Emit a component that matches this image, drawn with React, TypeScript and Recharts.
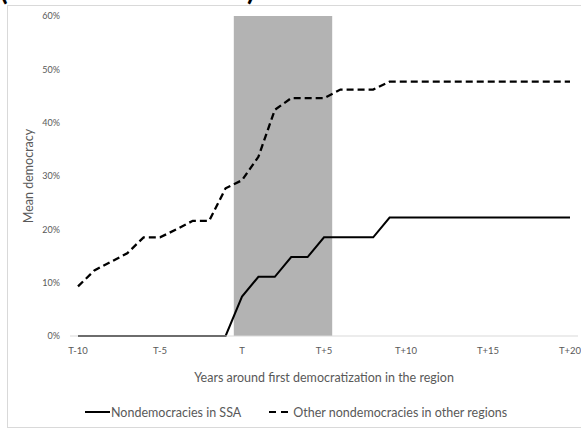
import React from 'react';
import { LineChart, Line, XAxis, YAxis, ReferenceArea, Legend, Label } from 'recharts';

const years = [-10, -9, -8, -7, -6, -5, -4, -3, -2, -1, 0, 1, 2, 3, 4, 5, 6, 7, 8, 9, 10, 11, 12, 13, 14, 15, 16, 17, 18, 19, 20];
const ssaValues = [0, 0, 0, 0, 0, 0, 0, 0, 0, 0, 0.074, 0.111, 0.111, 0.148, 0.148, 0.185, 0.185, 0.185, 0.185, 0.222, 0.222, 0.222, 0.222, 0.222, 0.222, 0.222, 0.222, 0.222, 0.222, 0.222, 0.222];
const otherValues = [0.093, 0.123, 0.139, 0.155, 0.185, 0.185, 0.2, 0.216, 0.216, 0.277, 0.292, 0.336, 0.424, 0.446, 0.446, 0.446, 0.462, 0.462, 0.462, 0.477, 0.477, 0.477, 0.477, 0.477, 0.477, 0.477, 0.477, 0.477, 0.477, 0.477, 0.477];
const tickYears = [-10, -5, 0, 5, 10, 15, 20];
const tickLabels = ['T-10', 'T-5', 'T', 'T+5', 'T+10', 'T+15', 'T+20'];
const yTicks = [0, 0.1, 0.2, 0.3, 0.4, 0.5, 0.6];
const seriesNames = ['Nondemocracies in SSA', 'Other nondemocracies in other regions'];
const shadeRange = [-0.5, 5.5];
const xTitle = 'Years around first democratization in the region';
const yTitle = 'Mean democracy';

const data = years.map((year, i) => ({ year, ssa: ssaValues[i], other: otherValues[i] }));

const FONT = 'Lato, "Open Sans", sans-serif';
const TEXT = '#595959';

const renderLegend = () => (
  <div style={{ display: 'flex', alignItems: 'center', fontFamily: FONT, fontSize: 12.5, color: TEXT, whiteSpace: 'nowrap', lineHeight: '15px' }}>
    <svg width={26} height={10}>
      <line x1={0} x2={25} y1={5} y2={5} stroke="#000" strokeWidth={2} />
    </svg>
    <span>{seriesNames[0]}</span>
    <svg width={24} height={10} style={{ marginLeft: 28 }}>
      <line x1={0} x2={23} y1={5} y2={5} stroke="#000" strokeWidth={2.2} strokeDasharray="7 5" />
    </svg>
    <span>{seriesNames[1]}</span>
  </div>
);

const XTitle = (props: any) => {
  const vb = props.viewBox || {};
  const cx = vb.x + vb.width / 2;
  return (
    <text x={cx} y={377} textAnchor="middle" dominantBaseline="central" fill={TEXT} fontFamily={FONT} fontSize={12.5}>
      {xTitle}
    </text>
  );
};

const YTitle = (props: any) => {
  const vb = props.viewBox || {};
  const cy = vb.y + vb.height / 2;
  return (
    <text x={28} y={cy} transform={`rotate(-90 28 ${cy})`} textAnchor="middle" dominantBaseline="central" fill={TEXT} fontFamily={FONT} fontSize={12.5}>
      {yTitle}
    </text>
  );
};

export default function App() {
  return (
    <div style={{ position: 'absolute', left: 0, top: 0, width: 581, height: 431, overflow: 'hidden', background: '#fff' }}>
      <div style={{ position: 'absolute', left: 7, top: 5, width: 620, height: 421, border: '1px solid #d9d9d9' }} />
      <span style={{ position: 'absolute', left: 0, top: -25, fontSize: 28, lineHeight: '28px', fontWeight: 'bold', fontFamily: FONT, color: '#000' }}>(</span>
      <span style={{ position: 'absolute', left: 247, top: -25, fontSize: 28, lineHeight: '28px', fontWeight: 'bold', fontFamily: FONT, color: '#000' }}>)</span>
      <div style={{ position: 'absolute', left: 0, top: 0 }}>
        <LineChart width={581} height={431} data={data} margin={{ top: 16, right: 3, left: 0, bottom: 65 }}>
          <ReferenceArea x1={shadeRange[0]} x2={shadeRange[1]} y1={0} y2={0.6} fill="#b3b3b3" fillOpacity={1} stroke="none" ifOverflow="extendDomain" />
          <XAxis
            dataKey="year"
            type="number"
            domain={[-10, 20]}
            ticks={tickYears}
            tickFormatter={(v: number) => tickLabels[tickYears.indexOf(v)]}
            padding={{ left: 8, right: 8 }}
            height={30}
            tickLine={false}
            tickSize={0}
            tickMargin={11}
            axisLine={{ stroke: '#d9d9d9', strokeWidth: 1 }}
            tick={{ fill: TEXT, fontSize: 9.5, fontFamily: FONT }}
            interval={0}
          >
            <Label content={<XTitle />} />
          </XAxis>
          <YAxis
            type="number"
            domain={[0, 0.6]}
            ticks={yTicks}
            tickFormatter={(v: number) => `${Math.round(v * 100)}%`}
            width={70}
            axisLine={false}
            tickLine={false}
            tickSize={0}
            tickMargin={10}
            tick={{ fill: TEXT, fontSize: 9, fontFamily: FONT }}
            interval={0}
          >
            <Label content={<YTitle />} />
          </YAxis>
          <Line dataKey="ssa" name={seriesNames[0]} type="linear" stroke="#000" strokeWidth={2} dot={false} isAnimationActive={false} />
          <Line dataKey="other" name={seriesNames[1]} type="linear" stroke="#000" strokeWidth={2.3} strokeDasharray="7 4" dot={false} isAnimationActive={false} />
          <Legend content={renderLegend} layout="horizontal" verticalAlign="middle" wrapperStyle={{ left: 85, top: 404.5, width: 'auto' }} />
        </LineChart>
      </div>
    </div>
  );
}
